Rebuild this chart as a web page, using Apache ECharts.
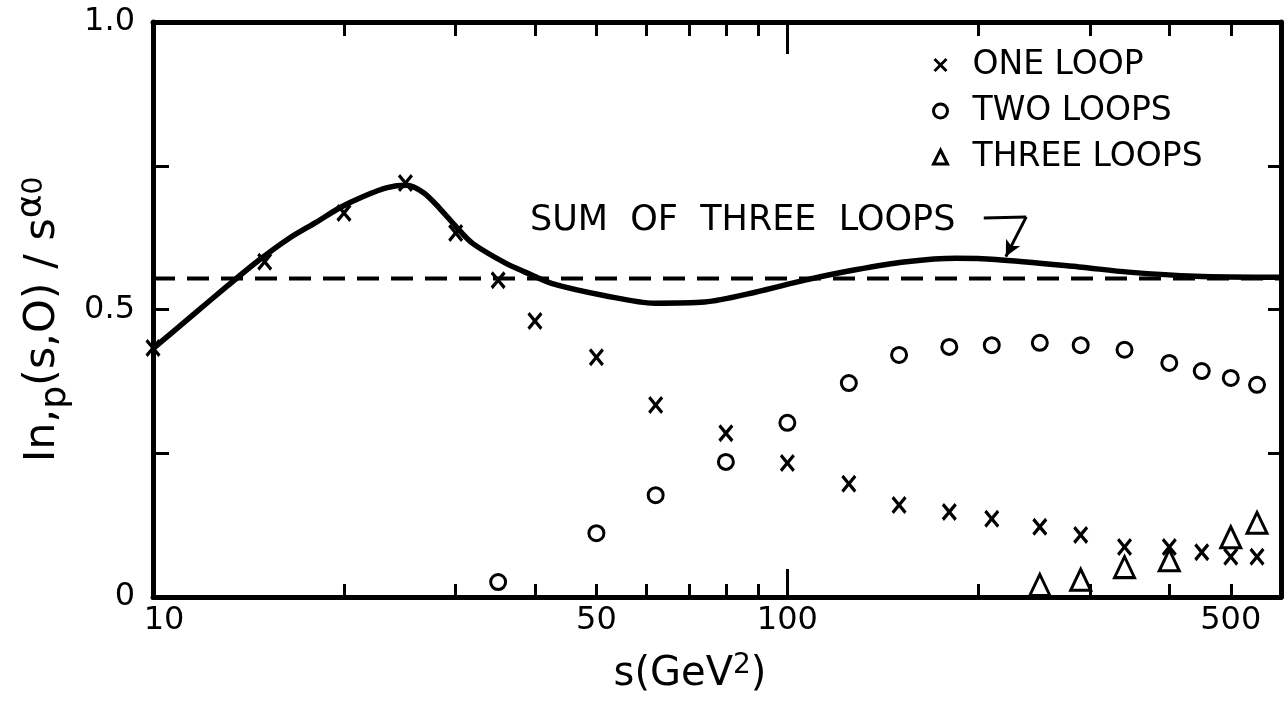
<!DOCTYPE html>
<html>
<head>
<meta charset="utf-8">
<script src="https://cdn.jsdelivr.net/npm/echarts@6/dist/echarts.min.js"></script>
<style>
html,body{margin:0;padding:0;background:#fff;}
#c{width:1285px;height:705px;}
</style>
</head>
<body>
<div id="c"></div>
<script>
// ---- data ----
const sOne = [10,15,20,25,30,35,40,50,62,80,100,125,150,180,210,250,290,340,400,450,500,550];
const vOne = [0.433,0.583,0.668,0.72,0.633,0.551,0.48,0.417,0.334,0.285,0.233,0.197,0.16,0.148,0.136,0.122,0.108,0.087,0.087,0.078,0.07,0.07];

const sTwo = [35,50,62,80,100,125,150,180,210,250,290,340,400,450,500,550];
const vTwo = [0.026,0.111,0.177,0.235,0.303,0.372,0.421,0.435,0.438,0.442,0.438,0.43,0.407,0.393,0.381,0.369];

const sThree = [250,290,340,400,500,550];
const vThree = [0.021,0.03,0.052,0.064,0.104,0.129];

const sSum = [10,11.6,13.1,14.7,16.4,18.1,19.7,21.5,23.4,25.1,26.7,28.3,30.1,31.9,35.9,38.6,42.6,51.6,61.8,74.1,89,106.6,128,154,184.5,213,288,345,440,600];
const vSum = [0.432,0.492,0.541,0.586,0.624,0.652,0.677,0.697,0.712,0.716,0.703,0.676,0.643,0.615,0.581,0.565,0.545,0.524,0.511,0.513,0.53,0.551,0.569,0.583,0.589,0.587,0.574,0.565,0.558,0.556];

const sDash = [10,600];
const vDash = [0.554,0.554];

const xLabelValues = [10,50,100,500];
const xMinorTicks = [20,30,40,50,60,70,80,90,200,300,400,500];
const xMajorTicks = [100];

// annotation arrow (data coords)
const arrowPts = [[204,0.659],[238,0.661],[221,0.592]];

const FONT = 'DejaVu Sans';
const INK = '#000';
const pair = (xs, ys) => xs.map((x, i) => [x, ys[i]]);
const xPath = 'path://M0,2L2,0L7,5L12,0L14,2L9,7L14,12L12,14L7,9L2,14L0,12L5,7Z';

const xCommon = {type:'log', logBase:10, min:10, max:600, gridIndex:0, splitLine:{show:false}};

const chart = echarts.init(document.getElementById('c'), null, {renderer:'canvas'});
chart.setOption({
  backgroundColor:'#fff',
  animation:false,
  grid:{left:153, right:4, top:22, bottom:108},
  legend:{
    orient:'vertical', left:927, top:43, itemGap:12,
    itemWidth:14, itemHeight:14,
    textStyle:{fontFamily:FONT, fontSize:33, color:INK, lineHeight:34, padding:[0,0,0,20]},
    data:[
      {name:'ONE LOOP', icon:xPath, itemStyle:{color:INK, borderWidth:0, opacity:1}},
      {name:'TWO LOOPS', icon:'circle', itemStyle:{color:'#fff', borderColor:INK, borderWidth:3, opacity:1}},
      {name:'THREE LOOPS', icon:'triangle', itemStyle:{color:'#fff', borderColor:INK, borderWidth:3, opacity:1}}
    ]
  },
  xAxis:[
    Object.assign({}, xCommon, {
      position:'bottom',
      name:'{n|s(GeV}{sup|2}{n|)}',
      nameLocation:'middle', nameGap:55,
      nameTextStyle:{fontFamily:FONT, color:INK, padding:[0,54,0,0],
        rich:{n:{fontFamily:FONT, fontSize:40, color:INK, lineHeight:46},
              sup:{fontFamily:FONT, fontSize:28, color:INK, verticalAlign:'top', lineHeight:46}}},
      axisLine:{show:true, lineStyle:{color:INK, width:5}},
      axisTick:{show:true, inside:true, length:13, lineStyle:{color:INK, width:3}, customValues:xMinorTicks},
      axisLabel:{show:true, margin:8, fontFamily:FONT, fontSize:32, color:INK, customValues:xLabelValues,
        formatter:(v)=> v===10 ? '{f|10}' : String(v),
        rich:{f:{fontFamily:FONT, fontSize:32, color:INK, padding:[0,0,0,22]}}}
    }),
    Object.assign({}, xCommon, {
      position:'bottom',
      axisLine:{show:false},
      axisTick:{show:true, inside:true, length:28, lineStyle:{color:INK, width:3}, customValues:xMajorTicks},
      axisLabel:{show:false}
    }),
    Object.assign({}, xCommon, {
      position:'top',
      axisLine:{show:true, lineStyle:{color:INK, width:5}},
      axisTick:{show:true, inside:true, length:14, lineStyle:{color:INK, width:3}, customValues:xMinorTicks},
      axisLabel:{show:false}
    }),
    Object.assign({}, xCommon, {
      position:'top',
      axisLine:{show:false},
      axisTick:{show:true, inside:true, length:32, lineStyle:{color:INK, width:3}, customValues:xMajorTicks},
      axisLabel:{show:false}
    })
  ],
  yAxis:[
    {
      type:'value', min:0, max:1, interval:0.25, position:'left',
      name:'{n|In,}{sub|p}{n|(s,O) / s}{sup|α}{supsub|0}',
      nameLocation:'middle', nameGap:73, nameRotate:90,
      nameTextStyle:{fontFamily:FONT, color:INK, padding:[0,20,0,0],
        rich:{n:{fontFamily:FONT, fontSize:43, color:INK, lineHeight:60, verticalAlign:'middle'},
              sub:{fontFamily:FONT, fontSize:36, color:INK, lineHeight:60, verticalAlign:'bottom'},
              sup:{fontFamily:FONT, fontSize:36, color:INK, lineHeight:60, verticalAlign:'top'},
              supsub:{fontFamily:FONT, fontSize:28, color:INK, lineHeight:60, verticalAlign:'top', padding:[8,0,0,0]}}},
      splitLine:{show:false},
      axisLine:{show:true, lineStyle:{color:INK, width:5}},
      axisTick:{show:true, inside:true, length:16, lineStyle:{color:INK, width:3}},
      axisLabel:{margin:18, fontFamily:FONT, fontSize:32, color:INK,
        formatter:(v)=> v===0 ? '0' : (v===0.5 ? '0.5' : (v===1 ? '1.0' : ''))}
    },
    {
      type:'value', min:0, max:1, interval:0.25, position:'right',
      splitLine:{show:false},
      axisLine:{show:true, lineStyle:{color:INK, width:5}},
      axisTick:{show:true, inside:true, length:13, lineStyle:{color:INK, width:3}},
      axisLabel:{show:false}
    }
  ],
  graphic:[
    {type:'text', left:530, top:203, z:10,
     style:{text:'SUM  OF  THREE  LOOPS', fontFamily:FONT, fontSize:35, fill:INK}}
  ],
  series:[
    {
      name:'dashed', type:'line', data:pair(sDash, vDash), showSymbol:false, silent:true,
      lineStyle:{color:INK, width:4, type:[22,12]}, z:2
    },
    {
      name:'SUM', type:'line', data:pair(sSum, vSum), smooth:0.3, showSymbol:false, silent:true,
      lineStyle:{color:INK, width:5.5}, z:3,
      markLine:{
        silent:true, symbol:['none','none'],
        lineStyle:{color:INK, width:3, type:'solid'},
        label:{show:false},
        data:[
          [{coord:arrowPts[0], symbol:'none'},{coord:arrowPts[1], symbol:'none'}],
          [{coord:arrowPts[1], symbol:'none'},{coord:arrowPts[2], symbol:'arrow', symbolSize:[12,16]}]
        ]
      }
    },
    {
      name:'ONE LOOP', type:'scatter', data:pair(sOne, vOne), symbol:xPath, symbolSize:[15,18],
      itemStyle:{color:INK, borderWidth:0, opacity:1}, z:4
    },
    {
      name:'TWO LOOPS', type:'scatter', data:pair(sTwo, vTwo), symbol:'circle', symbolSize:15,
      itemStyle:{color:'#fff', borderColor:INK, borderWidth:3, opacity:1}, z:4
    },
    {
      name:'THREE LOOPS', type:'scatter', data:pair(sThree, vThree), symbol:'triangle', symbolSize:[20,21],
      itemStyle:{color:'#fff', borderColor:INK, borderWidth:3, opacity:1}, z:4
    }
  ]
});
</script>
</body>
</html>
